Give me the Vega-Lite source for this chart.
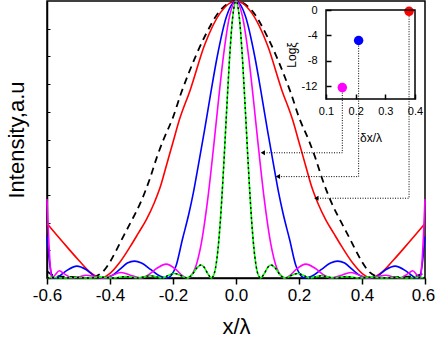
{
"$schema": "https://vega.github.io/schema/vega-lite/v6.json",
"width": 378, "height": 277,
"autosize": {"type": "none"},
"padding": {"left": 47, "top": 1, "right": 11, "bottom": 61},
"background": "white",
"config": {
 "font": "Liberation Sans",
 "view": {"stroke": "black", "strokeWidth": 1.5},
 "axis": {"grid": false, "domainColor": "black", "domainWidth": 1.5, "tickColor": "black", "labelColor": "black", "titleColor": "black", "labelFontWeight": "normal", "titleFontWeight": "normal", "labelFont": "Liberation Sans", "titleFont": "Liberation Sans", "labelOverlap": false}
},
"datasets": {
 "curves": [
  {"s":"D","x":-0.6,"v":0.025},{"s":"D","x":-0.585,"v":0.012},{"s":"D","x":-0.56,"v":0.006},{"s":"D","x":-0.52,"v":0.004},{"s":"D","x":-0.47,"v":0},{"s":"D","x":-0.45,"v":0.004},{"s":"D","x":-0.425,"v":0.02},{"s":"D","x":-0.4,"v":0.058},{"s":"D","x":-0.38,"v":0.1},{"s":"D","x":-0.36,"v":0.145},{"s":"D","x":-0.336,"v":0.197},{"s":"D","x":-0.3,"v":0.28},{"s":"D","x":-0.273,"v":0.36},{"s":"D","x":-0.25,"v":0.44},{"s":"D","x":-0.23,"v":0.5},{"s":"D","x":-0.2,"v":0.58},{"s":"D","x":-0.175,"v":0.665},{"s":"D","x":-0.15,"v":0.74},{"s":"D","x":-0.1,"v":0.87},{"s":"D","x":-0.05,"v":0.966},{"s":"D","x":0,"v":1},
  {"s":"D","x":0.05,"v":0.966},{"s":"D","x":0.1,"v":0.87},{"s":"D","x":0.15,"v":0.74},{"s":"D","x":0.175,"v":0.665},{"s":"D","x":0.2,"v":0.58},{"s":"D","x":0.23,"v":0.5},{"s":"D","x":0.25,"v":0.44},{"s":"D","x":0.273,"v":0.36},{"s":"D","x":0.3,"v":0.28},{"s":"D","x":0.336,"v":0.197},{"s":"D","x":0.36,"v":0.145},{"s":"D","x":0.38,"v":0.1},{"s":"D","x":0.4,"v":0.058},{"s":"D","x":0.425,"v":0.02},{"s":"D","x":0.45,"v":0.004},{"s":"D","x":0.47,"v":0},{"s":"D","x":0.52,"v":0.004},{"s":"D","x":0.56,"v":0.006},{"s":"D","x":0.585,"v":0.012},{"s":"D","x":0.6,"v":0.025},

  {"s":"R","x":-0.6,"v":0.197},{"s":"R","x":-0.55,"v":0.13},{"s":"R","x":-0.5,"v":0.065},{"s":"R","x":-0.46,"v":0.018},{"s":"R","x":-0.43,"v":0},{"s":"R","x":-0.4,"v":0.017},{"s":"R","x":-0.37,"v":0.055},{"s":"R","x":-0.335,"v":0.115},{"s":"R","x":-0.31,"v":0.162},{"s":"R","x":-0.285,"v":0.21},{"s":"R","x":-0.26,"v":0.27},{"s":"R","x":-0.24,"v":0.33},{"s":"R","x":-0.22,"v":0.41},{"s":"R","x":-0.2,"v":0.49},{"s":"R","x":-0.18,"v":0.57},{"s":"R","x":-0.145,"v":0.68},{"s":"R","x":-0.1,"v":0.84},{"s":"R","x":-0.05,"v":0.957},{"s":"R","x":0,"v":1},
  {"s":"R","x":0.05,"v":0.957},{"s":"R","x":0.1,"v":0.84},{"s":"R","x":0.145,"v":0.68},{"s":"R","x":0.18,"v":0.57},{"s":"R","x":0.2,"v":0.49},{"s":"R","x":0.22,"v":0.41},{"s":"R","x":0.24,"v":0.33},{"s":"R","x":0.26,"v":0.27},{"s":"R","x":0.285,"v":0.21},{"s":"R","x":0.31,"v":0.162},{"s":"R","x":0.335,"v":0.115},{"s":"R","x":0.37,"v":0.055},{"s":"R","x":0.4,"v":0.017},{"s":"R","x":0.43,"v":0},{"s":"R","x":0.46,"v":0.018},{"s":"R","x":0.5,"v":0.065},{"s":"R","x":0.55,"v":0.13},{"s":"R","x":0.6,"v":0.197},

  {"s":"B","x":-0.6,"v":0.15},{"s":"B","x":-0.59,"v":0.04},{"s":"B","x":-0.58,"v":0},{"s":"B","x":-0.565,"v":0.004},{"s":"B","x":-0.54,"v":0.025},{"s":"B","x":-0.505,"v":0.043},{"s":"B","x":-0.475,"v":0.03},{"s":"B","x":-0.445,"v":0.004},{"s":"B","x":-0.42,"v":0},{"s":"B","x":-0.395,"v":0.008},{"s":"B","x":-0.37,"v":0.03},{"s":"B","x":-0.345,"v":0.054},{"s":"B","x":-0.322,"v":0.061},{"s":"B","x":-0.3,"v":0.054},{"s":"B","x":-0.27,"v":0.03},{"s":"B","x":-0.24,"v":0.006},{"s":"B","x":-0.218,"v":0},{"s":"B","x":-0.205,"v":0.01},{"s":"B","x":-0.19,"v":0.045},{"s":"B","x":-0.17,"v":0.14},{"s":"B","x":-0.15,"v":0.23},{"s":"B","x":-0.135,"v":0.31},{"s":"B","x":-0.12,"v":0.404},{"s":"B","x":-0.1,"v":0.533},{"s":"B","x":-0.082,"v":0.655},{"s":"B","x":-0.06,"v":0.797},{"s":"B","x":-0.03,"v":0.945},{"s":"B","x":0,"v":1},
  {"s":"B","x":0.03,"v":0.945},{"s":"B","x":0.06,"v":0.797},{"s":"B","x":0.082,"v":0.655},{"s":"B","x":0.1,"v":0.533},{"s":"B","x":0.12,"v":0.404},{"s":"B","x":0.135,"v":0.31},{"s":"B","x":0.15,"v":0.23},{"s":"B","x":0.17,"v":0.14},{"s":"B","x":0.19,"v":0.045},{"s":"B","x":0.205,"v":0.01},{"s":"B","x":0.218,"v":0},{"s":"B","x":0.24,"v":0.006},{"s":"B","x":0.27,"v":0.03},{"s":"B","x":0.3,"v":0.054},{"s":"B","x":0.322,"v":0.061},{"s":"B","x":0.345,"v":0.054},{"s":"B","x":0.37,"v":0.03},{"s":"B","x":0.395,"v":0.008},{"s":"B","x":0.42,"v":0},{"s":"B","x":0.445,"v":0.004},{"s":"B","x":0.475,"v":0.03},{"s":"B","x":0.505,"v":0.043},{"s":"B","x":0.54,"v":0.025},{"s":"B","x":0.565,"v":0.004},{"s":"B","x":0.58,"v":0},{"s":"B","x":0.59,"v":0.04},{"s":"B","x":0.6,"v":0.15},

  {"s":"M","x":-0.6,"v":0.285},{"s":"M","x":-0.595,"v":0.15},{"s":"M","x":-0.59,"v":0.05},{"s":"M","x":-0.586,"v":0},{"s":"M","x":-0.575,"v":0.01},{"s":"M","x":-0.561,"v":0.026},{"s":"M","x":-0.545,"v":0.015},{"s":"M","x":-0.52,"v":0},{"s":"M","x":-0.5,"v":0.004},{"s":"M","x":-0.476,"v":0.01},{"s":"M","x":-0.45,"v":0.006},{"s":"M","x":-0.42,"v":0},{"s":"M","x":-0.4,"v":0.006},{"s":"M","x":-0.365,"v":0.02},{"s":"M","x":-0.33,"v":0.008},{"s":"M","x":-0.3,"v":0},{"s":"M","x":-0.28,"v":0.01},{"s":"M","x":-0.25,"v":0.036},{"s":"M","x":-0.222,"v":0.05},{"s":"M","x":-0.19,"v":0.03},{"s":"M","x":-0.17,"v":0.008},{"s":"M","x":-0.155,"v":0},{"s":"M","x":-0.145,"v":0.006},{"s":"M","x":-0.13,"v":0.034},{"s":"M","x":-0.11,"v":0.126},{"s":"M","x":-0.09,"v":0.282},{"s":"M","x":-0.07,"v":0.485},{"s":"M","x":-0.055,"v":0.648},{"s":"M","x":-0.04,"v":0.8},{"s":"M","x":-0.02,"v":0.947},{"s":"M","x":0,"v":1},
  {"s":"M","x":0.02,"v":0.947},{"s":"M","x":0.04,"v":0.8},{"s":"M","x":0.055,"v":0.648},{"s":"M","x":0.07,"v":0.485},{"s":"M","x":0.09,"v":0.282},{"s":"M","x":0.11,"v":0.126},{"s":"M","x":0.13,"v":0.034},{"s":"M","x":0.145,"v":0.006},{"s":"M","x":0.155,"v":0},{"s":"M","x":0.17,"v":0.008},{"s":"M","x":0.19,"v":0.03},{"s":"M","x":0.222,"v":0.05},{"s":"M","x":0.25,"v":0.036},{"s":"M","x":0.28,"v":0.01},{"s":"M","x":0.3,"v":0},{"s":"M","x":0.33,"v":0.008},{"s":"M","x":0.365,"v":0.02},{"s":"M","x":0.4,"v":0.006},{"s":"M","x":0.42,"v":0},{"s":"M","x":0.45,"v":0.006},{"s":"M","x":0.476,"v":0.01},{"s":"M","x":0.5,"v":0.004},{"s":"M","x":0.52,"v":0},{"s":"M","x":0.545,"v":0.015},{"s":"M","x":0.561,"v":0.026},{"s":"M","x":0.575,"v":0.01},{"s":"M","x":0.586,"v":0},{"s":"M","x":0.59,"v":0.05},{"s":"M","x":0.595,"v":0.15},{"s":"M","x":0.6,"v":0.285},

  {"s":"G","x":-0.6,"v":0.001},{"s":"G","x":-0.58,"v":0.002},{"s":"G","x":-0.546,"v":0},{"s":"G","x":-0.51,"v":0.002},{"s":"G","x":-0.468,"v":0},{"s":"G","x":-0.43,"v":0.003},{"s":"G","x":-0.39,"v":0},{"s":"G","x":-0.35,"v":0.005},{"s":"G","x":-0.312,"v":0},{"s":"G","x":-0.272,"v":0.008},{"s":"G","x":-0.234,"v":0},{"s":"G","x":-0.215,"v":0.009},{"s":"G","x":-0.195,"v":0.016},{"s":"G","x":-0.175,"v":0.009},{"s":"G","x":-0.156,"v":0},{"s":"G","x":-0.14,"v":0.0113},{"s":"G","x":-0.125,"v":0.0355},{"s":"G","x":-0.111,"v":0.047},{"s":"G","x":-0.1,"v":0.037},{"s":"G","x":-0.09,"v":0.0164},{"s":"G","x":-0.078,"v":0},{"s":"G","x":-0.07,"v":0.0126},{"s":"G","x":-0.06,"v":0.075},{"s":"G","x":-0.05,"v":0.201},{"s":"G","x":-0.04,"v":0.385},{"s":"G","x":-0.03,"v":0.599},{"s":"G","x":-0.02,"v":0.801},{"s":"G","x":-0.01,"v":0.947},{"s":"G","x":0,"v":1},
  {"s":"G","x":0.01,"v":0.947},{"s":"G","x":0.02,"v":0.801},{"s":"G","x":0.03,"v":0.599},{"s":"G","x":0.04,"v":0.385},{"s":"G","x":0.05,"v":0.201},{"s":"G","x":0.06,"v":0.075},{"s":"G","x":0.07,"v":0.0126},{"s":"G","x":0.078,"v":0},{"s":"G","x":0.09,"v":0.0164},{"s":"G","x":0.1,"v":0.037},{"s":"G","x":0.111,"v":0.047},{"s":"G","x":0.125,"v":0.0355},{"s":"G","x":0.14,"v":0.0113},{"s":"G","x":0.156,"v":0},{"s":"G","x":0.175,"v":0.009},{"s":"G","x":0.195,"v":0.016},{"s":"G","x":0.215,"v":0.009},{"s":"G","x":0.234,"v":0},{"s":"G","x":0.272,"v":0.008},{"s":"G","x":0.312,"v":0},{"s":"G","x":0.35,"v":0.005},{"s":"G","x":0.39,"v":0},{"s":"G","x":0.43,"v":0.003},{"s":"G","x":0.468,"v":0},{"s":"G","x":0.51,"v":0.002},{"s":"G","x":0.546,"v":0},{"s":"G","x":0.58,"v":0.002},{"s":"G","x":0.6,"v":0.001}
 ],
 "links": [
  {"id":"m","o":1,"x":0.3375,"v":0.6875},{"id":"m","o":2,"x":0.3375,"v":0.452},{"id":"m","o":3,"x":0.085,"v":0.452},
  {"id":"b","o":1,"x":0.3893,"v":0.857},{"id":"b","o":2,"x":0.3893,"v":0.366},{"id":"b","o":3,"x":0.133,"v":0.366},
  {"id":"r","o":1,"x":0.5494,"v":0.963},{"id":"r","o":2,"x":0.5494,"v":0.288},{"id":"r","o":3,"x":0.255,"v":0.288}
 ],
 "pts": [
  {"s":"R","d":0.38,"g":-0.2},{"s":"B","d":0.21,"g":-4.8},{"s":"M","d":0.155,"g":-12.2}
 ],
 "frame": [
  {"d":0.1,"d2":0.4,"g":0,"g2":-14}
 ]
},
"layer": [
 {
  "encoding": {
   "x": {"field": "x", "type": "quantitative", "scale": {"domain": [-0.6, 0.6], "nice": false, "zero": false},
    "axis": {"orient": "bottom", "values": [-0.6, -0.4, -0.2, 0, 0.2, 0.4, 0.6], "labelExpr": "datum.value < -0.01 ? '-' + format(-datum.value, '.1f') : format(abs(datum.value), '.1f')", "labelFontSize": 17, "labelFlush": false, "labelOffset": {"condition": {"test": "datum.value > 0.5", "value": -2}, "value": 0}, "tickSize": 6, "tickWidth": 1.5, "labelPadding": 3, "title": "x/λ", "titleFontSize": 22, "titlePadding": 13}},
   "y": {"field": "v", "type": "quantitative", "scale": {"domain": [0, 1], "nice": false, "zero": false},
    "axis": {"orient": "left", "values": [0.1, 0.2, 0.3, 0.4, 0.5, 0.6, 0.7, 0.8, 0.9], "labels": false, "tickSize": -3, "tickWidth": 1, "title": "Intensity,a.u", "titleFontSize": 22, "titlePadding": 18}}
  },
  "layer": [
   {"data": {"name": "curves"}, "transform": [{"filter": "datum.s == 'D'"}],
    "mark": {"type": "line", "color": "black", "strokeDash": [7, 5], "strokeWidth": 1.8, "interpolate": "monotone"}},
   {"data": {"name": "curves"}, "transform": [{"filter": "datum.s != 'D'"}],
    "mark": {"type": "line", "strokeWidth": 1.6, "interpolate": "monotone"},
    "encoding": {"color": {"field": "s", "type": "nominal", "scale": {"domain": ["R", "B", "M", "G"], "range": ["#ff0000", "#0000ff", "#ff00ff", "#00ff00"]}, "legend": null}}},
   {"data": {"name": "curves"}, "transform": [{"filter": "datum.s == 'G'"}],
    "mark": {"type": "line", "color": "black", "strokeDash": [2, 3], "strokeWidth": 1.4, "interpolate": "monotone"}},
   {"data": {"name": "links"},
    "mark": {"type": "line", "color": "black", "strokeDash": [1, 1.5], "strokeWidth": 1},
    "encoding": {"detail": {"field": "id"}, "order": {"field": "o"}}},
   {"data": {"name": "links"}, "transform": [{"filter": "datum.o == 3"}],
    "mark": {"type": "point", "shape": "triangle-left", "filled": true, "color": "black", "opacity": 1, "size": 25}}
  ]
 },
 {
  "encoding": {
   "x": {"field": "d", "type": "quantitative", "scale": {"domain": [0.1, 0.4], "range": [279, 368], "nice": false, "zero": false},
    "axis": {"orient": "bottom", "offset": -179, "values": [0.1, 0.2, 0.3, 0.4], "format": ".1f", "domain": false, "tickSize": -5, "tickWidth": 1.5, "labelPadding": 11, "labelFontSize": 11, "labelFlush": false, "title": "δx/λ", "titleFontSize": 12, "titlePadding": 16}},
   "y": {"field": "g", "type": "quantitative", "scale": {"domain": [-14, 0], "range": [98, 9], "nice": false, "zero": false},
    "axis": {"orient": "left", "offset": -279, "values": [0, -4, -8, -12], "labelExpr": "datum.value < 0 ? '-' + format(-datum.value, 'd') : '0'", "domain": false, "tickSize": -5, "tickWidth": 1.5, "labelPadding": 14, "labelFontSize": 11, "labelFlush": false, "title": "Logξ", "titleFontSize": 12, "titlePadding": 3}}
  },
  "layer": [
   {"data": {"name": "pts"},
    "mark": {"type": "point", "filled": true, "opacity": 1, "size": 90},
    "encoding": {"color": {"field": "s", "type": "nominal", "legend": null}}},
   {"data": {"name": "frame"},
    "mark": {"type": "rect", "fill": "transparent", "stroke": "black", "strokeWidth": 1.5},
    "encoding": {"x2": {"field": "d2"}, "y2": {"field": "g2"}}}
  ]
 }
],
"resolve": {"scale": {"x": "independent", "y": "independent"}, "axis": {"x": "independent", "y": "independent"}}
}
